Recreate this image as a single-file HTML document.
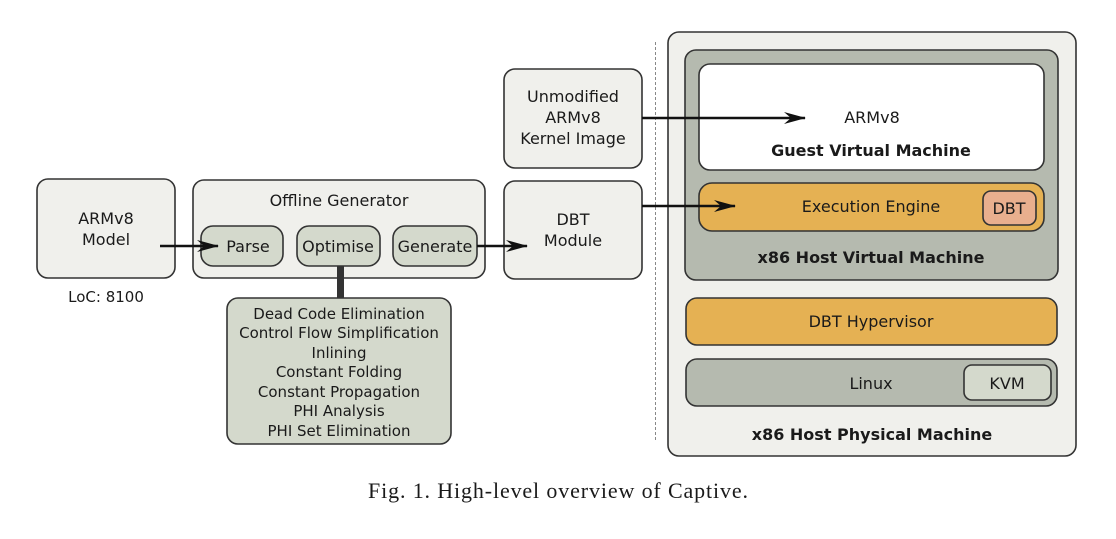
<!DOCTYPE html>
<html><head><meta charset="utf-8"><style>
body{margin:0;background:#fff}
svg text{font-family:"DejaVu Sans","Liberation Sans",sans-serif;fill:#1a1a1a}
</style></head><body>
<svg width="1116" height="534" viewBox="0 0 1116 534" xmlns="http://www.w3.org/2000/svg">
<defs><marker id="a" markerWidth="22" markerHeight="12" refX="21" refY="6" orient="auto" markerUnits="userSpaceOnUse"><path d="M0,0 L22,6 L0,12 L7,6 Z" fill="#111"/></marker></defs>
<g stroke="#333" stroke-width="1.6">
<rect x="668" y="32" width="408" height="424" rx="11" fill="#f0f0ec"/>
<rect x="685" y="50" width="373" height="230" rx="11" fill="#b5baaf"/>
<rect x="699" y="64" width="345" height="106" rx="11" fill="#fff"/>
<rect x="699" y="183" width="345" height="48" rx="13" fill="#e5b153"/>
<rect x="983" y="191" width="53" height="34" rx="8" fill="#e9af8e"/>
<rect x="686" y="298" width="371" height="47" rx="11" fill="#e5b153"/>
<rect x="686" y="359" width="371" height="47" rx="11" fill="#b5baaf"/>
<rect x="964" y="365" width="87" height="35" rx="8" fill="#d4d9cc"/>
<rect x="37" y="179" width="138" height="99" rx="11" fill="#f0f0ec"/>
<rect x="193" y="180" width="292" height="98" rx="11" fill="#f0f0ec"/>
<rect x="201" y="226" width="82" height="40" rx="12" fill="#d4d9cc"/>
<rect x="297" y="226" width="83" height="40" rx="12" fill="#d4d9cc"/>
<rect x="393" y="226" width="84" height="40" rx="12" fill="#d4d9cc"/>
<rect x="504" y="181" width="138" height="98" rx="11" fill="#f0f0ec"/>
<rect x="504" y="69" width="138" height="99" rx="11" fill="#f0f0ec"/>
<rect x="227" y="298" width="224" height="146" rx="11" fill="#d4d9cc"/>
</g>
<rect x="337" y="266" width="7" height="32" fill="#333"/>
<line x1="655.5" y1="42" x2="655.5" y2="442" stroke="#888" stroke-width="1" stroke-dasharray="3,2"/>
<g stroke="#111" stroke-width="2.5">
<line x1="160" y1="246" x2="218" y2="246" marker-end="url(#a)"/>
<line x1="477" y1="246" x2="527" y2="246" marker-end="url(#a)"/>
<line x1="642" y1="118" x2="805" y2="118" marker-end="url(#a)"/>
<line x1="642" y1="206" x2="735" y2="206" marker-end="url(#a)"/>
</g>
<g font-size="16" text-anchor="middle">
<text x="106" y="224">ARMv8</text><text x="106" y="245">Model</text>
<text x="106" y="302" font-size="15">LoC: 8100</text>
<text x="339" y="206">Offline Generator</text>
<text x="248" y="252">Parse</text><text x="338" y="252">Optimise</text><text x="435" y="252">Generate</text>
<text x="573" y="225">DBT</text><text x="573" y="246">Module</text>
<text x="573" y="102">Unmodified</text><text x="573" y="123">ARMv8</text><text x="573" y="144">Kernel Image</text>
<g font-size="15"><text x="339" y="319">Dead Code Elimination</text><text x="339" y="338">Control Flow Simplification</text><text x="339" y="358">Inlining</text><text x="339" y="377">Constant Folding</text><text x="339" y="397">Constant Propagation</text><text x="339" y="416">PHI Analysis</text><text x="339" y="436">PHI Set Elimination</text></g>
<text x="872" y="123">ARMv8</text>
<text x="871" y="156" font-weight="bold">Guest Virtual Machine</text>
<text x="871" y="212">Execution Engine</text>
<text x="1009" y="214">DBT</text>
<text x="871" y="263" font-weight="bold">x86 Host Virtual Machine</text>
<text x="871" y="327">DBT Hypervisor</text>
<text x="871" y="389">Linux</text>
<text x="1007" y="389">KVM</text>
<text x="872" y="440" font-weight="bold">x86 Host Physical Machine</text>
<text x="558" y="498" font-size="22" style="font-family:'Liberation Serif',serif" textLength="380" lengthAdjust="spacing">Fig. 1.  High-level overview of Captive.</text>
</g>
</svg>
</body></html>
